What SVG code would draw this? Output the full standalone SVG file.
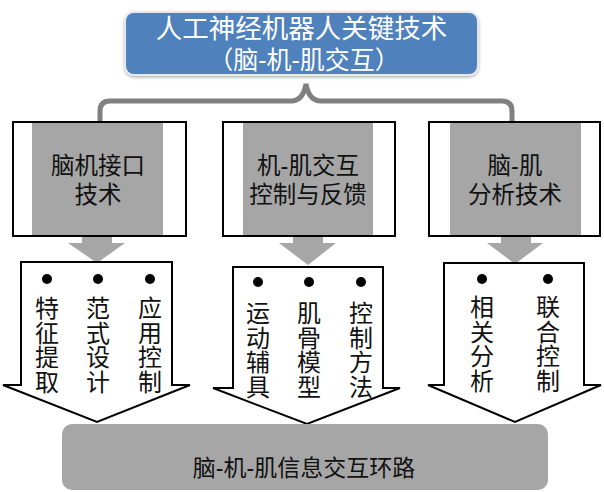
<svg xmlns="http://www.w3.org/2000/svg" width="604" height="492" viewBox="0 0 604 492">
<defs>
<style>
.t{font-family:"Liberation Sans","Noto Sans CJK SC",sans-serif;fill:#111;}
.v{font-family:"Noto Sans CJK SC","Noto Sans",sans-serif;fill:#111;font-size:24px;writing-mode:tb;letter-spacing:0.5px;}
.box{fill:#fff;stroke:#000;stroke-width:2;}
.inner{fill:#a6a6a6;}
.call{fill:#fff;stroke:#000;stroke-width:2;stroke-linejoin:miter;}
.arr{fill:#a6a6a6;}
.dot{fill:#000;}
</style>
<filter id="sh" x="-5%" y="-10%" width="110%" height="130%">
<feDropShadow dx="0" dy="1.5" stdDeviation="1.5" flood-color="#000" flood-opacity="0.3"/>
</filter>
</defs>
<rect width="604" height="492" fill="#fff"/>

<g id="connectors">
<path d="M100,122 V111 Q100,101 110,101 H291 Q303,101 306,84 Q309,101 321,101 H502 Q512,101 512,111 V122" fill="none" stroke="#808080" stroke-width="5"/>
<polygon class="arr" points="82,236 112,236 112,243 125,243 97,263 68,243 82,243"/>
<polygon class="arr" points="293,236 323,236 323,243 336,243 308,265 279,243 293,243"/>
<polygon class="arr" points="501,236 531,236 531,243 543,243 515,264 487,243 501,243"/>
</g>

<g id="title">
<rect x="125" y="12" width="353" height="63" rx="9" fill="#4f81bd" stroke="#e4e9f1" stroke-width="2" filter="url(#sh)"/>
<text class="t" x="301.500" y="38" font-size="26.500" text-anchor="middle" style="fill:#fff">人工神经机器人关键技术</text>
<text class="t" x="304" y="69" font-size="25" text-anchor="middle" style="fill:#fff">（脑-机-肌交互）</text>
</g>

<g id="box1">
<rect class="box" x="13" y="122" width="173" height="114"/>
<rect class="inner" x="32" y="123" width="131" height="112"/>
<text class="t" x="98" y="174" font-size="23.500" text-anchor="middle">脑机接口</text>
<text class="t" x="98" y="203" font-size="23.500" text-anchor="middle">技术</text>
</g>

<g id="box2">
<rect class="box" x="223" y="122" width="172" height="114"/>
<rect class="inner" x="243" y="123" width="130" height="112"/>
<text class="t" x="308" y="174" font-size="23.500" text-anchor="middle">机-肌交互</text>
<text class="t" x="308" y="203" font-size="23.500" text-anchor="middle">控制与反馈</text>
</g>

<g id="box3">
<rect class="box" x="429" y="122" width="171" height="114"/>
<rect class="inner" x="450" y="123" width="131" height="112"/>
<text class="t" x="515" y="174" font-size="23.500" text-anchor="middle">脑-肌</text>
<text class="t" x="515" y="203" font-size="23.500" text-anchor="middle">分析技术</text>
</g>

<g id="callout1">
<path class="call" d="M21,262 H172 V385 H190 L97,422 L3,385 H21 Z"/>
<circle class="dot" cx="47" cy="279" r="5"/>
<circle class="dot" cx="98" cy="279" r="5"/>
<circle class="dot" cx="150" cy="279" r="5"/>
<text class="v" x="47" y="296">特征提取</text>
<text class="v" x="98" y="296">范式设计</text>
<text class="v" x="150" y="296">应用控制</text>
</g>

<g id="callout2">
<path class="call" d="M233,267 H383 V388 H400 L307,424 L213,388 H233 Z"/>
<circle class="dot" cx="258" cy="282" r="5"/>
<circle class="dot" cx="309" cy="282" r="5"/>
<circle class="dot" cx="361" cy="282" r="5"/>
<text class="v" x="258" y="301">运动辅具</text>
<text class="v" x="309" y="301">肌骨模型</text>
<text class="v" x="361" y="301">控制方法</text>
</g>

<g id="callout3">
<path class="call" d="M444,263 H584 V385 H601 L515,422 L428,385 H444 Z"/>
<circle class="dot" cx="482" cy="279" r="5"/>
<circle class="dot" cx="548" cy="279" r="5"/>
<text class="v" x="482" y="295">相关分析</text>
<text class="v" x="548" y="295">联合控制</text>
</g>

<g id="loop">
<rect x="62" y="424" width="486" height="66" rx="10" fill="#a6a6a6"/>
<text class="t" x="304" y="476" font-size="23" text-anchor="middle">脑-机-肌信息交互环路</text>
</g>
</svg>
